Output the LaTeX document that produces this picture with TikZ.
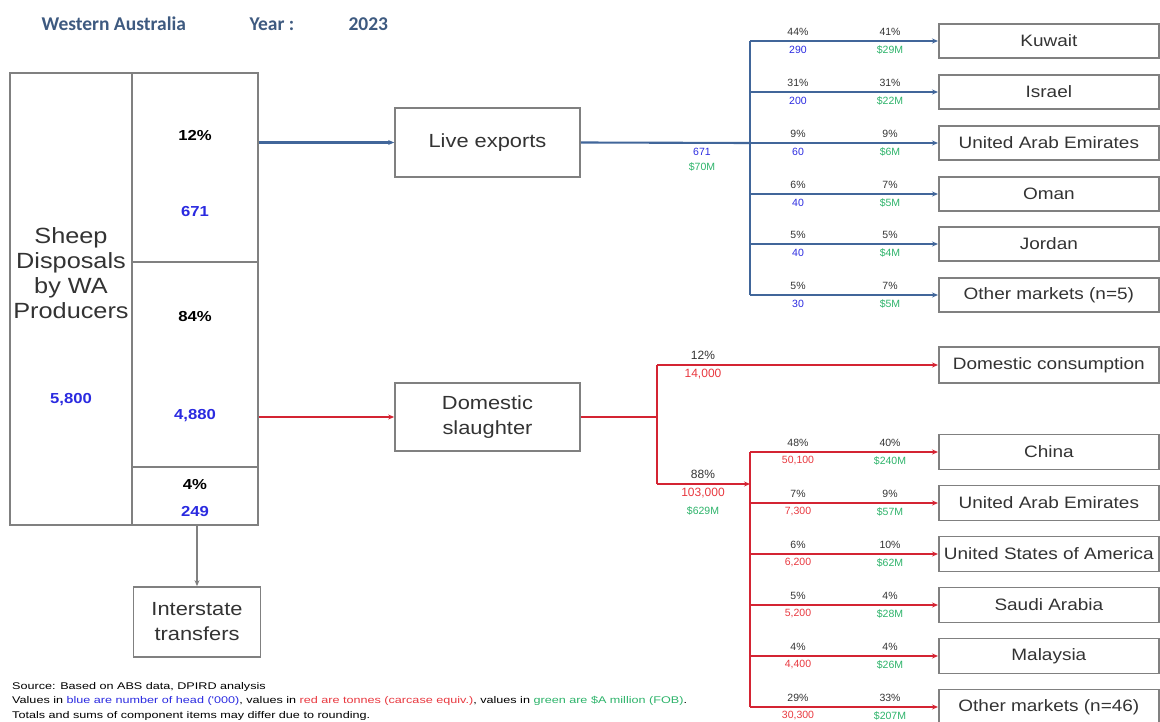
\documentclass[tikz,border=0pt]{standalone}
\usepackage{fontspec}
\setmainfont{Liberation Sans}
\newfontfamily\wide[FakeStretch=1.15]{Liberation Sans}
\newfontfamily\footf[FakeStretch=1.3]{Liberation Sans}
\newfontfamily\calib{Carlito}
\usetikzlibrary{arrows.meta}
\definecolor{bline}{HTML}{41669A}
\definecolor{rline}{HTML}{D42433}
\definecolor{btxt}{HTML}{2A2AE0}
\definecolor{rtxt}{HTML}{E8383F}
\definecolor{gtxt}{HTML}{2DB36A}
\definecolor{boxc}{HTML}{808080}
\definecolor{ttl}{HTML}{3E5A80}
\definecolor{dtxt}{HTML}{333333}
\tikzset{
  box/.style={draw=boxc, line width=1.7pt, fill=white, text=dtxt, align=center, inner sep=0pt},
  cbox/.style={box, minimum width=220, minimum height=34, anchor=west, font=\wide\fontsize{16.5}{18}\selectfont},
  mbox/.style={box, minimum width=185, minimum height=68, font=\wide\fontsize{19}{25}\selectfont},
  cell/.style={draw=boxc, line width=1.7pt, inner sep=0pt},
  colnum/.style={font=\wide\bfseries\fontsize{14.5}{16}\selectfont},
  lab/.style={font=\fontsize{10.5}{12}\selectfont, inner sep=0pt},
  blab/.style={font=\fontsize{12}{14}\selectfont, inner sep=0pt},
  bl/.style={draw=bline, line width=2.1pt},
  rl/.style={draw=rline, line width=2.1pt},
  tip/.style={-{Stealth[length=6pt,width=5pt]}},
  gtip/.style={draw=boxc, line width=1.3pt, -{Stealth[length=6pt,width=5pt]}},
  ttlf/.style={anchor=base west, text=ttl, font=\calib\bfseries\fontsize{19.5}{22}\selectfont},
  foot/.style={anchor=base west, inner sep=0pt, font=\footf\fontsize{9.7}{11}\selectfont}
}
\begin{document}
\begin{tikzpicture}[x=1pt,y=-1pt]
\useasboundingbox (0,0) rectangle (1160,722);
% title
\node[ttlf] (t1) at (38,31) {Western Australia};
\node[ttlf] (t2) at (246,31) {Year :};
\node[ttlf] (t3) at (345,31) {2023};
% left block
\node[cell, minimum width=122, minimum height=452] (sheep) at (71,299) {};
\node[cell, minimum width=126, minimum height=189] (lc) at (195,167.5) {};
\node[cell, minimum width=126, minimum height=205] (dc) at (195,364.5) {};
\node[cell, minimum width=126, minimum height=58] (ic) at (195,496) {};
\node[align=center, text=dtxt, font=\wide\fontsize{22}{25}\selectfont] (sheept) at (71,273) {Sheep\\Disposals\\by WA\\Producers};
\node[colnum, text=btxt] (n5800) at (71,400) {5,800};
\node[colnum] (p12) at (195,135) {12\%};
\node[colnum, text=btxt] (n671) at (195,212) {671};
\node[colnum] (p84) at (195,317) {84\%};
\node[colnum, text=btxt] (n4880) at (195,416) {4,880};
\node[colnum] (p4) at (195,485) {4\%};
\node[colnum, text=btxt] (n249) at (195,512) {249};
% interstate
\node[mbox, minimum width=127, minimum height=70] (inter) at (197,622) {Interstate\\transfers};
\draw[gtip] (inter.north |- ic.south) -- (inter.north);
% main boxes
\node[mbox, minimum height=69] (live) at (487.5,142.5) {Live exports};
\node[mbox] (dom) at (487.5,417) {Domestic\\slaughter};
\draw[bl, tip] (lc.east |- live.west) -- (live.west);
\draw[rl, tip] (dc.east |- dom.west) -- (dom.west);
% live export countries
\node[cbox] (kuw) at (938,41) {Kuwait};
\node[cbox] (isr) at (938,92) {Israel};
\node[cbox] (uae1) at (938,143) {United Arab Emirates};
\node[cbox] (oma) at (938,194) {Oman};
\node[cbox] (jor) at (938,244) {Jordan};
\node[cbox] (oth1) at (938,295) {Other markets (n=5)};
\coordinate (lb) at (750,143);
\draw[bl] (live.east) -- (lb);
\draw[bl] (lb |- kuw.west) -- (lb |- oth1.west);
\foreach \n in {kuw,isr,uae1,oma,jor,oth1} {\draw[bl, tip] (lb |- \n.west) -- (\n.west);}
\node[lab, text=btxt] (l671) at (702,152) {671};
\node[lab, text=gtxt] (l70) at (702,167) {\$70M};
\foreach \n/\y/\a/\b/\c/\d in {kuw/41/{44\%}/{290}/{41\%}/{\$29M}, isr/92/{31\%}/{200}/{31\%}/{\$22M}, uae1/143/{9\%}/{60}/{9\%}/{\$6M}, oma/194/{6\%}/{40}/{7\%}/{\$5M}, jor/244/{5\%}/{40}/{5\%}/{\$4M}, oth1/295/{5\%}/{30}/{7\%}/{\$5M}} {
  \node[lab, text=dtxt] at (798,\y-9) {\a};
  \node[lab, text=btxt] at (798,\y+9) {\b};
  \node[lab, text=dtxt] at (890,\y-9) {\c};
  \node[lab, text=gtxt] at (890,\y+9) {\d};
}
% domestic branch
\node[cbox, minimum height=36] (dcons) at (938,365) {Domestic consumption};
\node[cbox, minimum height=35] (chn) at (938,452) {China};
\node[cbox, minimum height=35] (uae2) at (938,503) {United Arab Emirates};
\node[cbox, minimum height=35] (usa) at (938,554) {United States of America};
\node[cbox, minimum height=35] (sau) at (938,605) {Saudi Arabia};
\node[cbox, minimum height=35] (mal) at (938,656) {Malaysia};
\node[cbox, minimum height=35] (oth2) at (938,707) {Other markets (n=46)};
\coordinate (ds) at (657,417);
\coordinate (r88) at (657,484);
\coordinate (xb) at (750,484);
\draw[rl] (dom.east) -- (ds);
\draw[rl] (ds |- dcons.west) -- (r88);
\draw[rl, tip] (ds |- dcons.west) -- (dcons.west);
\draw[rl, tip] (r88) -- (xb);
\draw[rl] (xb |- chn.west) -- (xb |- oth2.west);
\foreach \n in {chn,uae2,usa,sau,mal,oth2} {\draw[rl, tip] (xb |- \n.west) -- (\n.west);}
\node[blab, text=dtxt] (l12) at (703,355) {12\%};
\node[blab, text=rtxt] (l14) at (703,374) {14,000};
\node[blab, text=dtxt] (l88) at (703,474) {88\%};
\node[blab, text=rtxt] (l103) at (703,493) {103,000};
\node[lab, text=gtxt] (l629) at (703,511) {\$629M};
\foreach \n/\y/\a/\b/\c/\d in {chn/452/{48\%}/{50,100}/{40\%}/{\$240M}, uae2/503/{7\%}/{7,300}/{9\%}/{\$57M}, usa/554/{6\%}/{6,200}/{10\%}/{\$62M}, sau/605/{5\%}/{5,200}/{4\%}/{\$28M}, mal/656/{4\%}/{4,400}/{4\%}/{\$26M}, oth2/707/{29\%}/{30,300}/{33\%}/{\$207M}} {
  \node[lab, text=dtxt] at (798,\y-9) {\a};
  \node[lab, text=rtxt] at (798,\y+9) {\b};
  \node[lab, text=dtxt] at (890,\y-9) {\c};
  \node[lab, text=gtxt] at (890,\y+9) {\d};
}
% footnote
\node[foot] (f1) at (12,689) {Source: Based on ABS data, DPIRD analysis};
\node[foot] (f2) at (12,703) {Values in \textcolor{btxt}{blue are number of head ('000)}, values in \textcolor{rtxt}{red are tonnes (carcase equiv.)}, values in \textcolor{gtxt}{green are \$A million (FOB)}.};
\node[foot] (f3) at (12,718) {Totals and sums of component items may differ due to rounding.};
\end{tikzpicture}
\end{document}
